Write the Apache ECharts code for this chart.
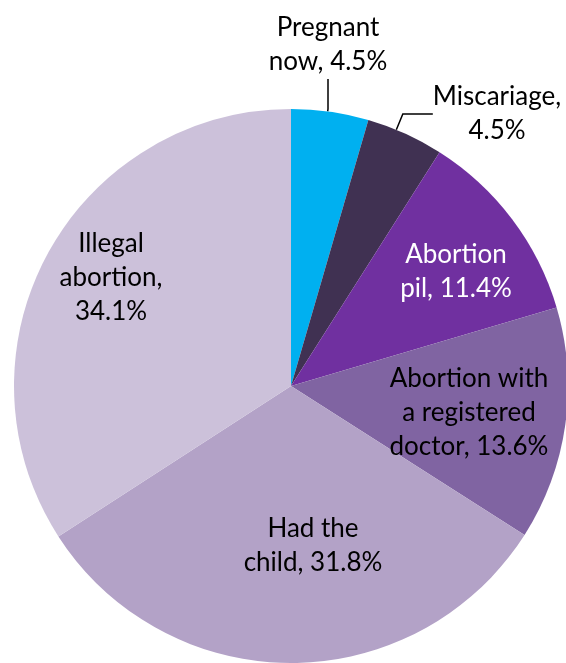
<!DOCTYPE html>
<html><head><meta charset="utf-8">
<script src="https://cdn.jsdelivr.net/npm/echarts@6/dist/echarts.min.js"></script>
<style>html,body{margin:0;padding:0;background:#fff}#c{width:566px;height:663px}</style>
</head><body><div id="c"></div>
<script>
const categories = ["Pregnant\nnow", "Miscariage", "Abortion\npil", "Abortion with\na registered\ndoctor", "Had the\nchild", "Illegal\nabortion"];
const values = [4.5, 4.5, 11.4, 13.6, 31.8, 34.1];
const colors = ["#00B0F0", "#403152", "#7030A0", "#8064A2", "#B3A2C7", "#CCC1DA"];
const labelText = ["Pregnant\nnow, 4.5%", "Miscariage,\n4.5%", "Abortion\npil, 11.4%", "Abortion with\na registered\ndoctor, 13.6%", "Had the\nchild, 31.8%", "Illegal\nabortion,\n34.1%"];
const labelColors = ["#000", "#000", "#fff", "#000", "#000", "#000"];
const labelPos = [[328, 45], [497, 114], [456, 272], [469, 413], [313, 546], [111, 278]];

const chart = echarts.init(document.getElementById('c'));
const FONT = 'Lato, "Open Sans", sans-serif';
chart.setOption({
  animation: false,
  series: [{
    type: 'pie',
    center: [291, 386],
    radius: 277,
    startAngle: 90,
    clockwise: true,
    label: {
      show: true,
      position: 'inside',
      fontFamily: FONT,
      fontSize: 26,
      lineHeight: 34,
      align: 'center',
      formatter: p => labelText[p.dataIndex]
    },
    labelLine: {show: false},
    labelLayout: function (params) {
      const i = params.dataIndex;
      const res = {x: labelPos[i][0], y: labelPos[i][1], align: 'center', verticalAlign: 'middle'};
      if (i === 0) {
        res.labelLinePoints = [[331, 110], [331, 85], [331, 85]];
      } else if (i === 1) {
        res.labelLinePoints = [[407, 133], [414, 98], [428, 98]];
      }
      return res;
    },
    data: categories.map((c, i) => ({
      name: c,
      value: values[i],
      itemStyle: {color: colors[i]},
      label: {color: labelColors[i]},
      labelLine: (i < 2) ? {show: true, lineStyle: {color: '#000', width: 1.5}} : {show: false}
    }))
  }]
});
</script></body></html>
